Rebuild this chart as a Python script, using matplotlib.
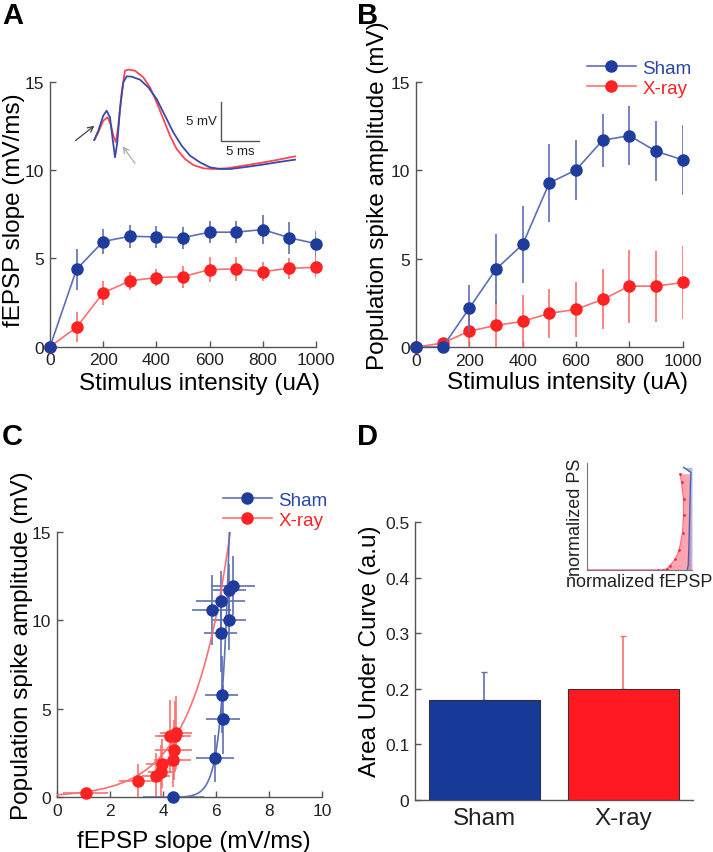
import numpy as np
import matplotlib
matplotlib.use("Agg")
import matplotlib.pyplot as plt
from matplotlib.lines import Line2D

plt.rcParams['font.family'] = ['Liberation Sans', 'DejaVu Sans']

# ---------------- data ----------------
stim = [0, 100, 200, 300, 400, 500, 600, 700, 800, 900, 1000]

# Panel A: fEPSP slope (mV/ms)
sham_slope = [0, 4.39, 5.96, 6.26, 6.22, 6.18, 6.49, 6.49, 6.64, 6.17, 5.84]
sham_slope_err = [0, 1.15, 0.72, 0.64, 0.62, 0.62, 0.62, 0.62, 0.83, 0.92, 0.74]
xray_slope = [0, 1.10, 3.05, 3.73, 3.92, 3.97, 4.37, 4.41, 4.26, 4.44, 4.50]
xray_slope_err = [0, 0.85, 0.70, 0.53, 0.50, 0.62, 0.70, 0.70, 0.55, 0.60, 0.60]

# Panel B: population spike amplitude (mV)
sham_ps = [0, 0.0, 2.20, 4.40, 5.80, 9.28, 10.01, 11.69, 11.95, 11.07, 10.58]
sham_ps_err = [0, 0.0, 1.32, 1.97, 2.16, 2.20, 1.70, 1.50, 1.65, 1.70, 2.00]
xray_ps = [0, 0.22, 0.90, 1.22, 1.45, 1.90, 2.13, 2.69, 3.44, 3.44, 3.65]
xray_ps_err = [0, 0.10, 1.00, 1.30, 1.50, 1.40, 1.55, 1.70, 2.06, 2.00, 2.05]

# Panel C: exponential fits (parameters)
xray_fit_a, xray_fit_b, xray_fit_range = 0.14, 0.715, (0.0, 6.55)
sham_fit_a, sham_fit_b, sham_fit_x0, sham_fit_range = 0.00965, 3.5, 4.4, (4.4, 6.5)

# Panel D: area under curve
groups = ['Sham', 'X-ray']
auc = [0.18, 0.199]
auc_err = [0.051, 0.096]

# Panel D inset: normalized curves
inset_xray_x = [0.0, 0.68, 0.72, 0.76, 0.79, 0.84, 0.88, 0.91, 0.92, 0.92, 0.90, 0.89]
inset_xray_y = [0.0, 0.0, 0.0, 0.01, 0.04, 0.10, 0.19, 0.35, 0.51, 0.66, 0.82, 0.90]
inset_sham_x = [0.955, 0.965, 0.97, 0.975, 0.98, 0.985, 0.99, 0.92]
inset_sham_y = [0.0, 0.05, 0.2, 0.4, 0.6, 0.8, 0.91, 0.96]

# Panel A inset: example traces (time ms, voltage mV)
trace_sham_t = [0, 0.52, 1.17, 1.61, 2.04, 2.39, 2.70, 3.00, 3.35, 3.78, 4.22, 4.87, 5.96, 7.04,
                8.13, 9.22, 10.30, 11.39, 12.48, 13.78, 15.09, 16.39, 17.70, 19.43, 21.61, 23.78, 26.17]
trace_sham_v = [3.72, 4.91, 6.84, 7.48, 6.62, 3.85, 1.50, 3.42, 7.69, 11.11, 11.88, 11.84, 11.45, 10.47,
                8.97, 6.84, 4.70, 2.99, 1.71, 0.85, 0.21, 0.0, 0.0, 0.21, 0.51, 0.85, 1.20]
trace_xray_t = [0, 0.52, 1.17, 1.74, 2.13, 2.48, 2.83, 3.13, 3.57, 4.00, 4.43, 5.30, 6.39, 7.26,
                8.13, 9.00, 9.87, 10.74, 11.83, 12.91, 14.22, 15.52, 17.26, 19.43, 21.61, 23.78, 26.17]
trace_xray_v = [3.72, 4.70, 6.20, 6.62, 5.77, 4.27, 3.42, 5.56, 9.83, 12.61, 12.74, 12.61, 11.75, 10.47,
                8.55, 6.41, 4.27, 2.56, 1.28, 0.51, 0.09, 0.0, 0.09, 0.43, 0.77, 1.15, 1.62]

# ---------------- style ----------------
BLUE_M = '#1f3c9c'
BLUE_L = '#5d70b6'
RED_M = '#ff2222'
RED_L = '#ff6f6f'
TICK_FS = 12.5
LAB_FS = 17.5
LEG_FS = 13.5
MS = 8

W, H = 713, 853
fig = plt.figure(figsize=(W / 100, H / 100), dpi=100)


def px_axes(left, top, right, bottom):
    return fig.add_axes([left / W, 1 - bottom / H, (right - left) / W, (bottom - top) / H])


def style(ax):
    for s in ['top', 'right']:
        ax.spines[s].set_visible(False)
    for s in ['left', 'bottom']:
        ax.spines[s].set_color('#555555')
        ax.spines[s].set_linewidth(1.0)
    ax.tick_params(direction='in', length=4, width=1, colors='#555555', labelcolor='#222222',
                   labelsize=TICK_FS, pad=4)


def series(ax, x, y, e, mc, lc, z):
    ax.errorbar(x, y, yerr=e, fmt='none', ecolor=lc, elinewidth=1.2, capsize=0, zorder=z)
    ax.plot(x, y, '-', color=lc, lw=1.2, zorder=z)
    ax.plot(x, y, 'o', color=mc, ms=MS, mec=mc, zorder=z + 0.5, clip_on=False)


def legend(ax, left_px, top_px, hl):
    handles = [Line2D([], [], color=BLUE_L, lw=1.2, marker='o', ms=MS, mfc=BLUE_M, mec=BLUE_M),
               Line2D([], [], color=RED_L, lw=1.2, marker='o', ms=MS, mfc=RED_M, mec=RED_M)]
    leg = ax.legend(handles, ['Sham', 'X-ray'], loc='upper left',
                    bbox_to_anchor=(left_px / W, 1 - top_px / H), bbox_transform=fig.transFigure,
                    frameon=False, fontsize=LEG_FS, handlelength=hl, handletextpad=0.35,
                    labelspacing=0.16, borderaxespad=0, borderpad=0)
    for txt, c in zip(leg.get_texts(), ['#2b46a8', RED_M]):
        txt.set_color(c)


# ---------------- Panel A ----------------
axA = px_axes(50, 83, 316, 347.7)
style(axA)
series(axA, stim, xray_slope, xray_slope_err, RED_M, RED_L, 3)
series(axA, stim, sham_slope, sham_slope_err, BLUE_M, BLUE_L, 4)
axA.set_xlim(0, 1000)
axA.set_ylim(0, 15)
axA.set_xticks(range(0, 1001, 200))
axA.set_yticks([0, 5, 10, 15])
axA.set_xlabel('Stimulus intensity (uA)', fontsize=LAB_FS)
axA.set_ylabel('fEPSP slope (mV/ms)', fontsize=LAB_FS)
axA.xaxis.set_label_coords(0.562, -0.095)
axA.yaxis.set_label_coords(-0.094, 0.52)

# trace inset in A
t0, t1, v0, v1 = -3.5, 27.0, -1.5, 13.5
px_ms, px_mv = 7.67, 7.8
left = 94.3 + t0 * px_ms
bottom = 170 - v0 * px_mv
axT = px_axes(left, bottom - (v1 - v0) * px_mv, left + (t1 - t0) * px_ms, bottom)
axT.set_xlim(t0, t1)
axT.set_ylim(v0, v1)
axT.axis('off')
axT.patch.set_alpha(0)
axT.plot(trace_xray_t, trace_xray_v, color='#ff4455', lw=1.3)
axT.plot(trace_sham_t, trace_sham_v, color='#3a4aa8', lw=1.3)
axT.plot([16.48, 16.48, 21.48], [8.63, 3.63, 3.63], color='#555555', lw=1.0)
axT.text(16.0, 6.2, '5 mV', ha='right', va='center', fontsize=9.5, color='#222222')
axT.text(19.0, 2.3, '5 ms', ha='center', va='center', fontsize=9.5, color='#222222')
axT.annotate('', xy=(0.3, 5.77), xytext=(-2.74, 3.42),
             arrowprops=dict(arrowstyle='->', color='#444444', lw=0.9))
axT.annotate('', xy=(3.48, 3.2), xytext=(5.52, 0.43),
             arrowprops=dict(arrowstyle='->', color='#aaaaaa', lw=0.9))

# ---------------- Panel B ----------------
axB = px_axes(416, 82.7, 682.7, 348)
style(axB)
series(axB, stim, xray_ps, xray_ps_err, RED_M, RED_L, 3)
series(axB, stim, sham_ps, sham_ps_err, BLUE_M, BLUE_L, 4)
axB.set_xlim(0, 1000)
axB.set_ylim(0, 15)
axB.set_xticks(range(0, 1001, 200))
axB.set_yticks([0, 5, 10, 15])
axB.set_xlabel('Stimulus intensity (uA)', fontsize=LAB_FS)
axB.set_ylabel('Population spike amplitude (mV)', fontsize=LAB_FS)
axB.xaxis.set_label_coords(0.568, -0.092)
axB.yaxis.set_label_coords(-0.101, 0.573)
legend(axB, 587, 60.5, 2.6)

# ---------------- Panel C ----------------
axC = px_axes(56.7, 532.7, 322.3, 798.3)
style(axC)
axC.errorbar(xray_slope, xray_ps, xerr=xray_slope_err, yerr=xray_ps_err, fmt='none',
             ecolor=RED_L, elinewidth=1.2, capsize=0, zorder=3)
axC.errorbar(sham_slope, sham_ps, xerr=sham_slope_err, yerr=sham_ps_err, fmt='none',
             ecolor=BLUE_L, elinewidth=1.2, capsize=0, zorder=3)
xr = np.linspace(*xray_fit_range, 200)
axC.plot(xr, xray_fit_a * np.exp(xray_fit_b * xr), color=RED_L, lw=1.2, zorder=4)
xs = np.linspace(*sham_fit_range, 200)
axC.plot(xs, sham_fit_a * (np.exp(sham_fit_b * (xs - sham_fit_x0)) - 1), color=BLUE_L, lw=1.2, zorder=4)
axC.plot(xray_slope[1:], xray_ps[1:], 'o', color=RED_M, ms=MS, zorder=5, clip_on=False)
axC.plot(sham_slope[1:], sham_ps[1:], 'o', color=BLUE_M, ms=MS, zorder=5, clip_on=False)
axC.set_xlim(0, 10)
axC.set_ylim(0, 15)
axC.set_xticks(range(0, 11, 2))
axC.set_yticks([0, 5, 10, 15])
axC.set_xlabel('fEPSP slope (mV/ms)', fontsize=LAB_FS)
axC.set_ylabel('Population spike amplitude (mV)', fontsize=LAB_FS)
axC.xaxis.set_label_coords(0.515, -0.122)
axC.yaxis.set_label_coords(-0.089, 0.573)
legend(axC, 223, 492.5, 2.6)

# ---------------- Panel D ----------------
axD = px_axes(415, 523.3, 693, 800.7)
style(axD)
xpos = [1, 2]
axD.bar(xpos, auc, width=0.8, color=['#173a98', '#ff1a22'], edgecolor='#333333', linewidth=0.8, zorder=3)
axD.errorbar(xpos[0], auc[0], yerr=[[0], [auc_err[0]]], fmt='none', ecolor=BLUE_L, elinewidth=1.2, capsize=2.5, zorder=2)
axD.errorbar(xpos[1], auc[1], yerr=[[0], [auc_err[1]]], fmt='none', ecolor=RED_L, elinewidth=1.2, capsize=2.5, zorder=2)
axD.set_xlim(0.5, 2.5)
axD.set_ylim(0, 0.5)
axD.set_xticks(xpos)
axD.set_xticklabels(groups, fontsize=17.5)
axD.tick_params(axis='x', length=0, pad=5)
axD.set_yticks([0, 0.1, 0.2, 0.3, 0.4, 0.5])
axD.set_yticklabels(['0', '0.1', '0.2', '0.3', '0.4', '0.5'])
axD.set_ylabel('Area Under Curve (a.u)', fontsize=LAB_FS)
axD.yaxis.set_label_coords(-0.122, 0.54)

# inset in D
axI = px_axes(587, 464, 692, 571)
for s in ['top', 'right']:
    axI.spines[s].set_visible(False)
for s in ['left', 'bottom']:
    axI.spines[s].set_color('#777777')
axI.set_xticks([])
axI.set_yticks([])
axI.set_xlim(0, 1)
axI.set_ylim(0, 1)
axI.fill_betweenx(inset_sham_y, inset_sham_x, 1.0, color='#8090d0', alpha=0.6, lw=0)
axI.plot(inset_sham_x, inset_sham_y, color='#4a5fb8', lw=1.0)
axI.fill_betweenx(inset_xray_y, inset_xray_x, 0.985, color='#ff6a7a', alpha=0.6, lw=0)
axI.plot(inset_xray_x, inset_xray_y, color='#ff6f80', lw=1.0)
axI.plot(inset_xray_x, inset_xray_y, '.', color='#e03050', ms=2)
axI.set_xlabel('normalized fEPSP', fontsize=13, labelpad=2, color='#222222')
axI.set_ylabel('normalized PS', fontsize=13, labelpad=2, color='#222222')

# panel letters
for lab, x, y in [('A', 2, 2), ('B', 357, 2), ('C', 2, 423), ('D', 357, 423)]:
    fig.text(x / W, 1 - y / H, lab, fontsize=21, fontweight='bold', ha='left', va='top')

fig.savefig('out.png', dpi=100)
